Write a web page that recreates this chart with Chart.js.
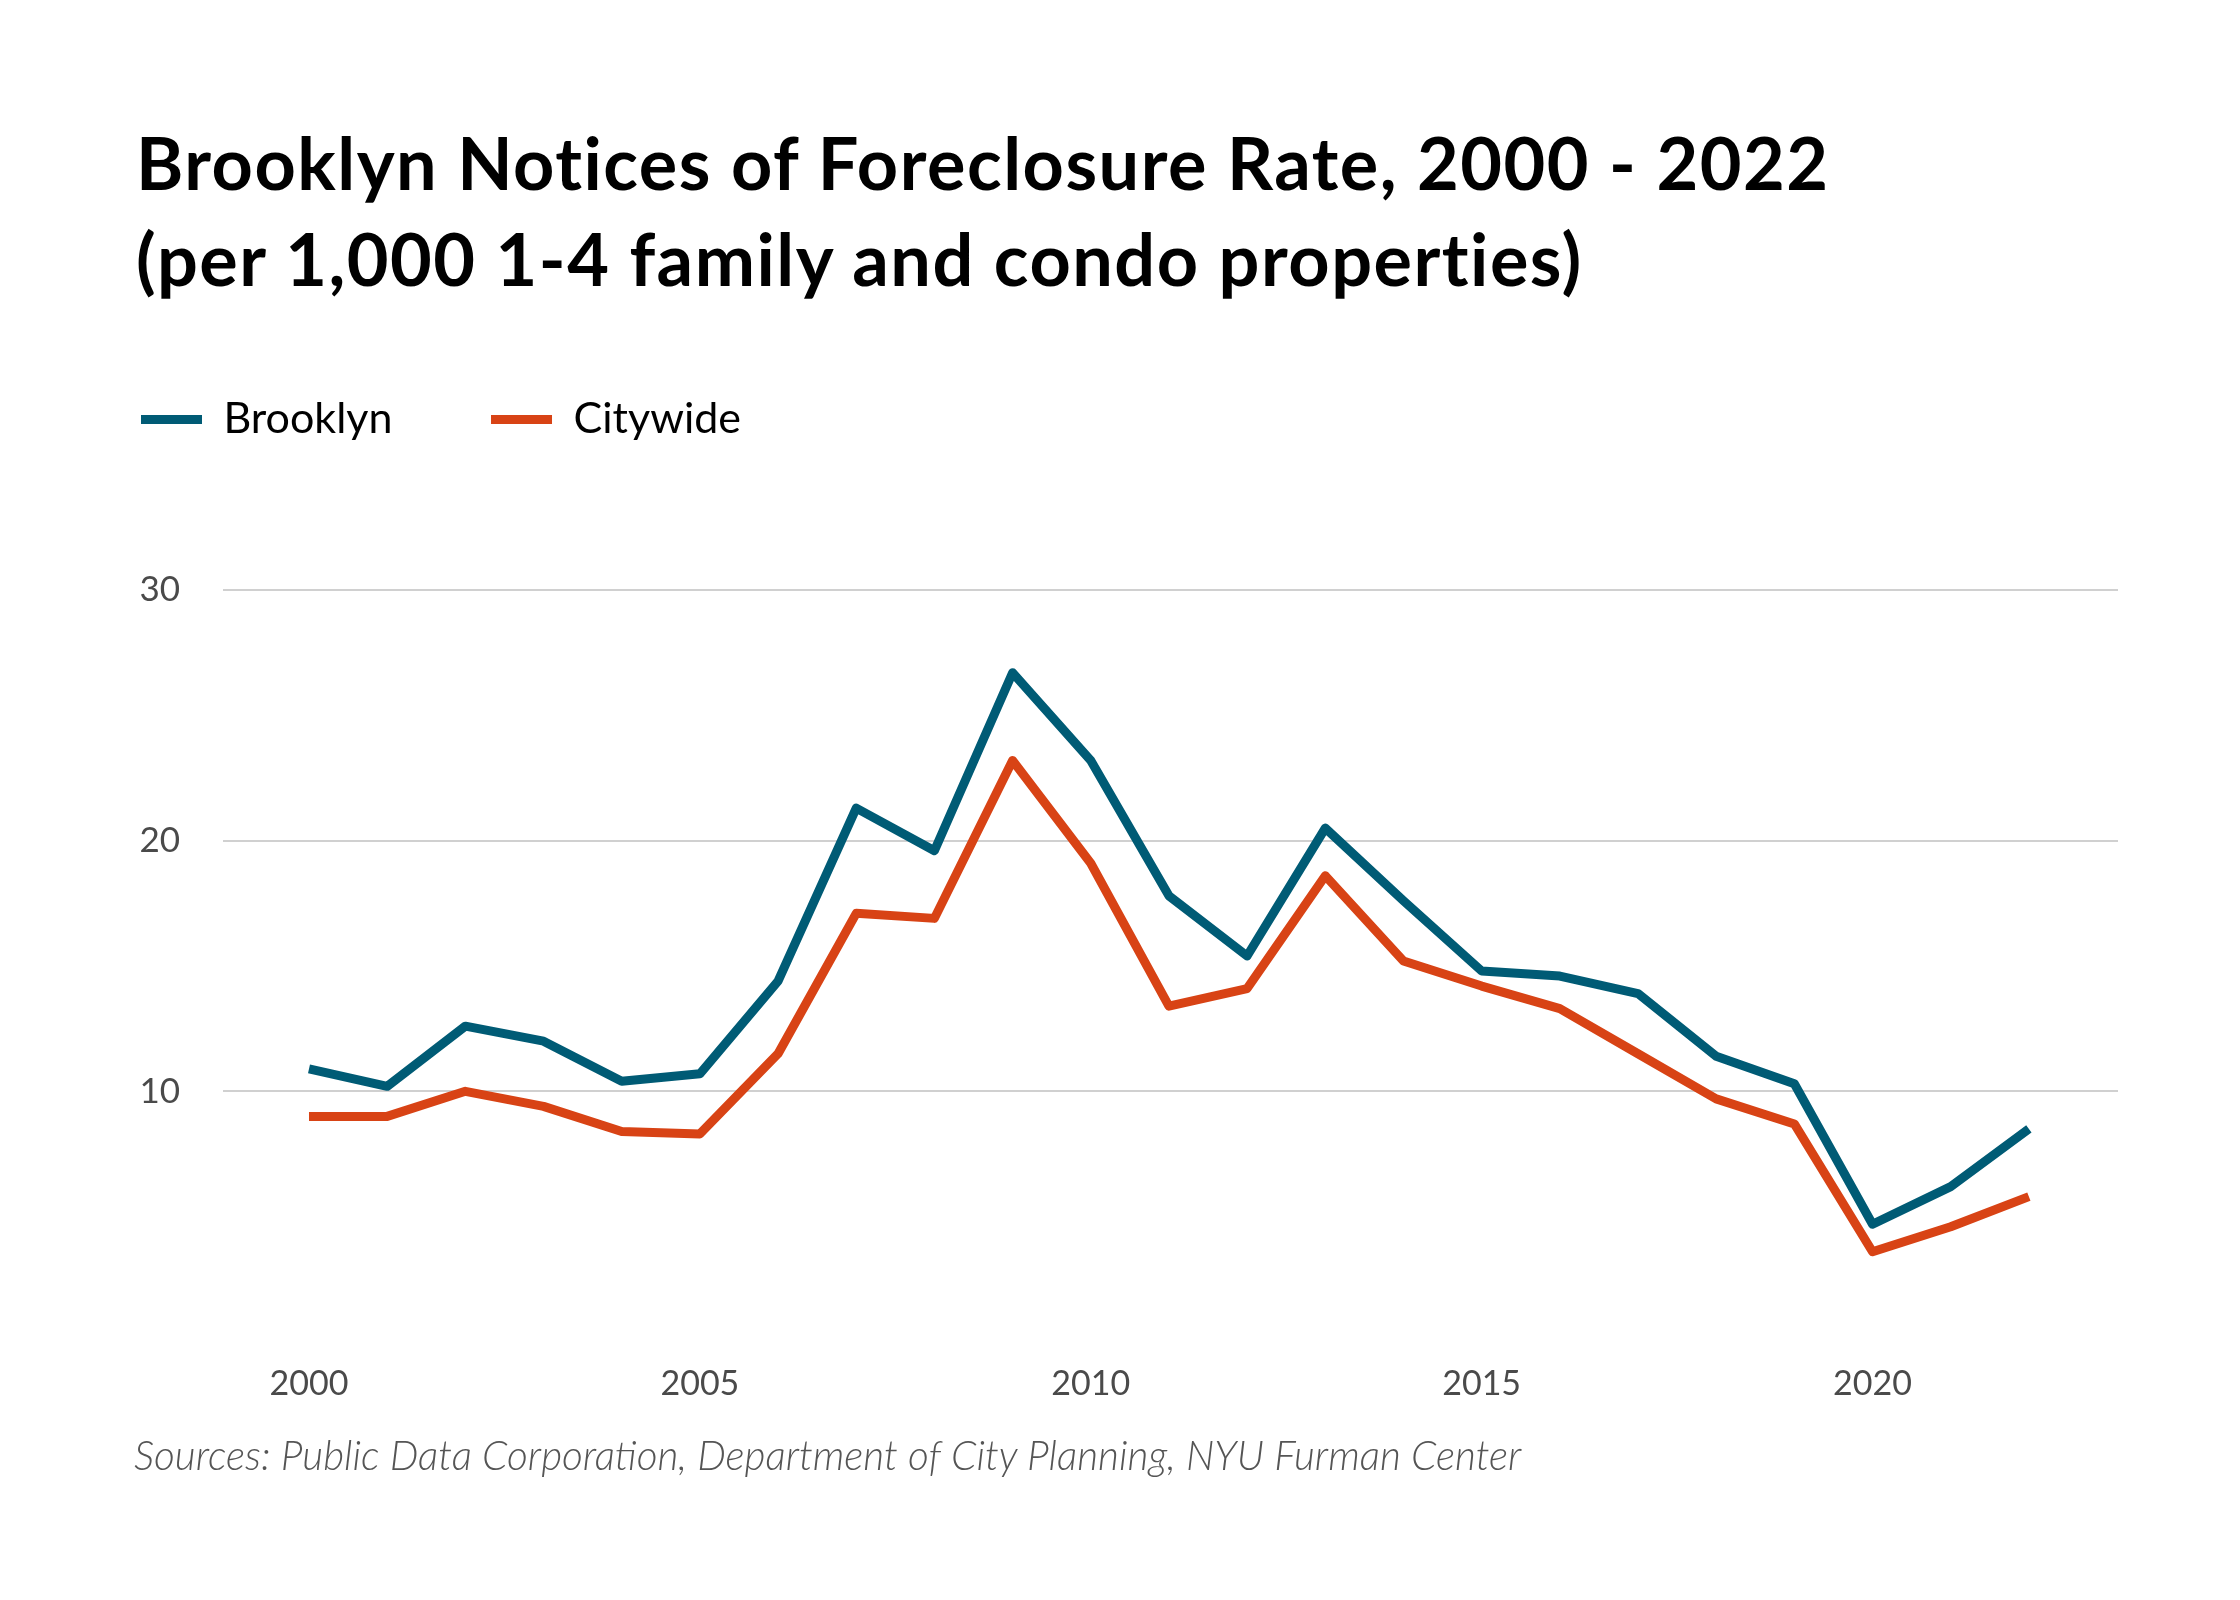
<!DOCTYPE html>
<html>
<head>
<meta charset="utf-8">
<title>Brooklyn Notices of Foreclosure Rate</title>
<script src="https://cdn.jsdelivr.net/npm/chart.js@4.4.1/dist/chart.umd.min.js"></script>
<style>
  html, body { margin: 0; padding: 0; background: #fff; }
  #wrap { position: relative; width: 2240px; height: 1600px; }
  #myChart { position: absolute; left: 0; top: 0; }
  .title {
    position: absolute; left: 136px; top: 114px; margin: 0;
    font-family: Lato, sans-serif; font-weight: 700; font-size: 72px; line-height: 96px;
    letter-spacing: 1.5px; color: #000;
  }
  .sources {
    position: absolute; left: 134px; top: 1431px; margin: 0;
    font-family: Lato, sans-serif; font-style: italic; font-weight: 300; font-size: 40.5px; line-height: 1.2;
    color: #555;
  }
</style>
</head>
<body>
<div id="wrap">
  <canvas id="myChart" width="2240" height="1600"></canvas>
  <h1 class="title">Brooklyn Notices of Foreclosure Rate, 2000 - 2022<br>(per 1,000 1-4 family and condo properties)</h1>
  <p class="sources">Sources: Public Data Corporation, Department of City Planning, NYU Furman Center</p>
</div>
<script>
  // Data
  const years = [2000, 2001, 2002, 2003, 2004, 2005, 2006, 2007, 2008, 2009, 2010, 2011,
                 2012, 2013, 2014, 2015, 2016, 2017, 2018, 2019, 2020, 2021, 2022]
  const brooklyn = [10.9, 10.2, 12.6, 12.0, 10.4, 10.7, 14.4, 21.3, 19.6, 26.7, 23.2, 17.8,
                    15.4, 20.5, 17.6, 14.8, 14.6, 13.9, 11.4, 10.3, 4.7, 6.2, 8.5]
  const citywide = [9.0, 9.0, 10.0, 9.4, 8.4, 8.3, 11.5, 17.1, 16.9, 23.2, 19.1, 13.4,
                    14.1, 18.6, 15.2, 14.2, 13.3, 11.5, 9.7, 8.7, 3.6, 4.6, 5.8]
  const xTicks = [2000, 2005, 2010, 2015, 2020]
  const yTicks = [10, 20, 30]
  const xMin = 1998.9
  const xMax = 2023.14

  const toPoints = (vals) => years.map((yr, i) => ({ x: yr, y: vals[i] }))

  // push the plot down below the legend
  const legendGap = {
    id: 'legendGap',
    beforeInit(chart) {
      const fit = chart.legend.fit
      chart.legend.fit = function () {
        fit.call(this)
        this.height += 139
      }
    }
  }

  const ctx = document.getElementById('myChart')
  const myChart = new Chart(ctx, {
    type: 'line',
    data: {
      datasets: [{
        label: 'Brooklyn',
        data: toPoints(brooklyn),
        borderColor: '#005b75',
        backgroundColor: '#005b75',
        borderWidth: 9,
        borderJoinStyle: 'round',
        pointRadius: 0,
        tension: 0
      }, {
        label: 'Citywide',
        data: toPoints(citywide),
        borderColor: '#d84315',
        backgroundColor: '#d84315',
        borderWidth: 9,
        borderJoinStyle: 'round',
        pointRadius: 0,
        tension: 0
      }]
    },
    options: {
      responsive: false,
      devicePixelRatio: 1,
      animation: false,
      layout: {
        padding: { top: 299.5, left: 42.5, right: 122, bottom: 0 }
      },
      scales: {
        x: {
          type: 'linear',
          min: xMin,
          max: xMax,
          afterBuildTicks: (axis) => { axis.ticks = xTicks.map(v => ({ value: v })) },
          afterFit: (scale) => { scale.height = 258 },
          grid: { display: false, drawTicks: false },
          border: { display: false },
          ticks: {
            padding: 22,
            color: '#4a4a4a',
            font: { family: 'Lato', size: 34 },
            callback: (v) => String(v)
          }
        },
        y: {
          min: 0,
          max: 30,
          afterBuildTicks: (axis) => { axis.ticks = [0].concat(yTicks).map(v => ({ value: v })) },
          afterFit: (scale) => { scale.width = 180.5 },
          grid: {
            drawTicks: false,
            lineWidth: 2,
            color: (c) => c.tick && c.tick.value === 0 ? 'rgba(0,0,0,0)' : '#d0d0d0'
          },
          border: { display: false },
          ticks: {
            padding: 43,
            color: '#4a4a4a',
            font: { family: 'Lato', size: 35 },
            callback: (v) => v === 0 ? '' : String(v)
          }
        }
      },
      plugins: {
        legend: {
          position: 'top',
          align: 'start',
          labels: {
            boxWidth: 61,
            boxHeight: 9,
            padding: 98.5,
            color: '#000',
            font: { family: 'Lato', size: 43 },
            generateLabels: (chart) => chart.data.datasets.map((ds, i) => ({
              text: ds.label,
              fillStyle: ds.borderColor,
              strokeStyle: ds.borderColor,
              lineWidth: 0,
              datasetIndex: i
            }))
          }
        },
        tooltip: { enabled: false }
      }
    },
    plugins: [legendGap]
  })
</script>
</body>
</html>
